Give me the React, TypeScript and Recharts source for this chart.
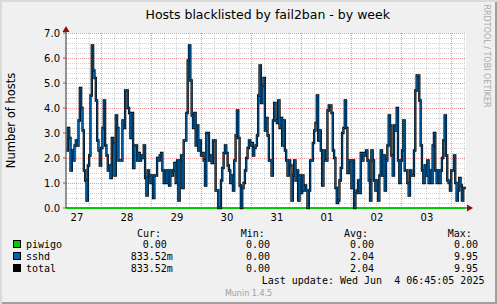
import React from 'react';
import { LineChart, Line, XAxis, YAxis, CartesianGrid, ReferenceLine, ReferenceDot } from 'recharts';

// ---- axis / tick data ----
const DAY_LABELS = ['27', '28', '29', '30', '31', '01', '02', '03'];
const LABEL_HOURS = [12, 36, 60, 84, 108, 132, 156, 180]; // noon of each day (hours since 27th 00:00)
const MIDNIGHT_HOURS = [24, 48, 72, 96, 120, 144, 168, 192];
const Y_TICKS = [0, 1, 2, 3, 4, 5, 6, 7];
const X_START = 6.75; // 27th 06:45
const X_END = 198.75; // 4th 06:45
const T0 = 7;
const STEP = 0.639;

// ---- series values (hosts) ----
const sshd = [
  2.3, 3.2, 2.8, 1.5, 2.3, 1.9, 2.5, 2.7, 2.5,
  3.5, 4.8, 4.0, 3.1, 1.5, 1.1, 0.3, 1.7, 2.1, 4.5,
  6.5, 5.5, 5.2, 4.3, 2.7, 2.3, 1.7, 2.4, 3.2, 4.3,
  2.5, 2.1, 1.5, 1.7, 1.2, 2.8, 2.6, 1.3, 3.7, 3.2,
  1.9, 1.9, 1.9, 3.5, 3.2, 4.7, 4.7, 4.0, 3.8, 2.8,
  3.8, 1.6, 2.5, 2.5, 1.9, 2.2, 1.9, 2.1, 2.0, 2.5,
  1.2, 0.5, 1.5, 1.3, 1.0, 1.3, 0.4, 1.3, 1.3, 2.0,
  1.9, 2.1, 2.2, 1.5, 1.0, 1.5,

  1.0, 1.5, 0.9, 1.5, 1.3, 1.5, 1.8, 1.0, 1.9, 0.3,
  1.9, 2.1, 0.8, 2.7, 2.7, 3.8, 5.9, 6.5, 5.1, 3.7,
  3.2, 3.8, 2.5, 3.3, 2.3, 2.7, 2.1, 2.2, 1.9, 0.9,
  3.0, 3.0, 1.9, 2.1, 1.8, 2.7, 2.7, 0.7, 0.7, 0.0,
  0.0, 1.1, 1.6, 2.2, 2.5, 2.2, 1.7, 1.5, 1.0, 1.3,
  0.7, 1.9, 2.9, 3.9, 2.8, 0.9, 0.0, 0.8, 1.0, 1.5,
  2.0, 2.4, 2.7, 2.5, 2.6, 2.1, 2.4, 2.5, 2.9, 4.5,
  5.7, 4.2, 4.9, 5.2, 3.1,

  3.6, 2.9, 1.9, 1.9, 1.3, 3.5, 4.2, 3.5, 3.4, 4.3,
  3.2, 3.6, 2.5, 3.5, 2.3, 1.9, 1.3, 1.9, 1.7, 0.3,
  1.3, 1.9, 1.1, 1.5, 0.3, 1.3, 0.6, 1.3, 0.7, 0.9,
  0.7, 0.0, 0.7, 1.9, 1.9, 2.6, 3.1, 3.4, 4.5, 2.7,
  3.1, 2.3, 0.9, 2.3, 1.9, 1.9, 3.9, 4.1, 4.1, 3.8,
  2.3, 2.0, 0.8, 0.2, 0.3, 1.1, 1.6, 3.0, 3.2, 4.3,
  3.2, 1.4, 1.9, 1.9, 0.8, 1.9, 0.0, 0.6, 0.7, 1.1,
  0.6, 2.2, 1.9, 2.2, 2.1,

  2.3, 1.9, 1.1, 0.3, 2.3, 1.9, 1.1, 0.7, 1.1, 0.3,
  1.3, 2.3, 1.3, 2.1, 0.7, 1.9, 2.5, 3.7, 3.3, 2.1,
  1.3, 3.3, 3.1, 4.0, 1.9, 1.0, 1.9, 2.3, 3.5, 1.5,
  1.5, 1.0, 0.5, 1.5, 1.3, 1.3, 2.3, 4.7, 5.3, 5.3,
  4.3, 2.5, 1.5, 1.0, 1.7, 1.3, 1.9, 1.0, 1.5, 1.0,
  2.5, 3.0, 1.5, 1.0, 1.5, 1.0, 1.5, 2.0, 2.7, 3.7,
  2.1, 1.1, 1.0, 0.7, 1.5, 1.5, 2.1, 1.0, 0.3, 0.7,
  1.2, 0.9, 0.3, 0.8, 0.8,
];
// total = sshd + piwigo, and piwigo is 0 over the whole week
const total = sshd.slice();
const piwigo = [0, 0];
const piwigoTimes = [X_START, X_END];

// ---- legend table ----
const LEGEND_NAMES = ['piwigo', 'sshd', 'total'];
const LEGEND_COLORS = ['#00CC00', '#0066B3', '#000000'];
const CUR = ['  0.00 ', '833.52m', '833.52m'];
const MIN = ['  0.00 ', '  0.00 ', '  0.00 '];
const AVG = ['  0.00 ', '  2.04 ', '  2.04 '];
const MAX = ['  0.00 ', '  9.95 ', '  9.95 '];

const data = sshd.map((v, i) => ({ t: T0 + i * STEP, sshd: v, total: total[i] }));
data.push({ t: T0 + sshd.length * STEP, sshd: sshd[sshd.length - 1], total: total[total.length - 1] });
const piwigoData = piwigo.map((v, i) => ({ t: piwigoTimes[i], piwigo: v }));

const MINOR_X: number[] = [];
for (let h = 12; h <= 198; h += 6) if (h % 24 !== 0) MINOR_X.push(h);
const MINOR_Y: number[] = [];
for (let k = 1; k < 35; k++) if (k % 5 !== 0) MINOR_Y.push(k / 5);
const MAJOR_Y = [1, 2, 3, 4, 5, 6, 7];

const MONO = '"DejaVu Sans Mono", monospace';
const SANS = '"DejaVu Sans", sans-serif';

const GRID_MINOR = '#D2D2D2';
const GRID_MAJOR = '#EE9A9A';
const ARROW = '#8B1010';

export default function App() {
  const rowBase = [248, 260, 272];
  return (
    <div
      style={{
        position: 'absolute',
        left: 0,
        top: 0,
        width: 497,
        height: 304,
        background: '#F0F0F0',
        boxShadow: 'inset 2px 2px 0 #DADADA, inset -2px -2px 0 #A0A0A0',
        overflow: 'hidden',
      }}
    >
      <LineChart width={497} height={304} data={data} margin={{ top: 33, right: 31, bottom: 76, left: 0 }}>
        <CartesianGrid fill="#FFFFFF" horizontal={false} vertical={false} stroke="none" />
        <XAxis
          dataKey="t"
          type="number"
          domain={[X_START, X_END]}
          ticks={LABEL_HOURS}
          interval={0}
          tickFormatter={(v: number) => DAY_LABELS[LABEL_HOURS.indexOf(v)]}
          axisLine={false}
          tickLine={false}
          tickSize={4}
          tickMargin={2}
          height={20}
          tick={{ fontSize: 10, fill: '#000', fontFamily: SANS }}
        />
        <YAxis
          type="number"
          domain={[0, 7]}
          ticks={Y_TICKS}
          interval={0}
          width={66}
          tickFormatter={(v: number) => v.toFixed(1)}
          axisLine={{ stroke: '#303030' }}
          tickLine={{ stroke: '#B05050' }}
          tickSize={3}
          tickMargin={3}
          tick={{ fontSize: 10, fill: '#000', fontFamily: SANS }}
        />
        {MINOR_X.map((h) => (
          <ReferenceLine key={'mx' + h} x={h} stroke={GRID_MINOR} strokeDasharray="1 1" shapeRendering="crispEdges" />
        ))}
        {MINOR_Y.map((v) => (
          <ReferenceLine key={'my' + v} y={v} stroke={GRID_MINOR} strokeDasharray="1 1" shapeRendering="crispEdges" />
        ))}
        {MIDNIGHT_HOURS.map((h) => (
          <ReferenceLine key={'Mx' + h} x={h} stroke={GRID_MAJOR} strokeDasharray="1 1" shapeRendering="crispEdges" />
        ))}
        {MAJOR_Y.map((v) => (
          <ReferenceLine key={'My' + v} y={v} stroke={GRID_MAJOR} strokeDasharray="1 1" shapeRendering="crispEdges" />
        ))}
        <Line
          data={piwigoData}
          dataKey="piwigo"
          type="linear"
          stroke="#00CC00"
          strokeWidth={2}
          dot={false}
          isAnimationActive={false}
        />
        <Line
          dataKey="total"
          type="stepAfter"
          stroke="#000000"
          strokeWidth={2.3}
          dot={false}
          isAnimationActive={false}
        />
        <Line
          dataKey="sshd"
          type="stepAfter"
          stroke="#0066B3"
          strokeWidth={0.9}
          dot={false}
          isAnimationActive={false}
        />
        <ReferenceDot
          x={X_START}
          y={7}
          ifOverflow="visible"
          shape={(p: any) => (
            <g>
              <line x1={p.cx} y1={p.cy} x2={p.cx} y2={p.cy - 2} stroke="#303030" />
              <path d={`M${p.cx - 3.5},${p.cy - 1} L${p.cx + 3.5},${p.cy - 1} L${p.cx},${p.cy - 7} Z`} fill={ARROW} />
            </g>
          )}
        />
        <ReferenceDot
          x={X_END}
          y={0}
          ifOverflow="visible"
          shape={(p: any) => (
            <g>
              <line x1={p.cx} y1={p.cy} x2={p.cx + 2} y2={p.cy} stroke={ARROW} />
              <path d={`M${p.cx + 1},${p.cy - 3.5} L${p.cx + 1},${p.cy + 3.5} L${p.cx + 7},${p.cy} Z`} fill={ARROW} />
            </g>
          )}
        />
      </LineChart>
      <svg width={497} height={304} style={{ position: 'absolute', left: 0, top: 0, pointerEvents: 'none' }}>
        <text x={145.5} y={19} fontFamily={SANS} fontSize={12.5} fill="#000">
          Hosts blacklisted by fail2ban - by week
        </text>
        <text
          x={0}
          y={0}
          transform="translate(15,120.5) rotate(-90)"
          textAnchor="middle"
          fontFamily={SANS}
          fontSize={11.5}
          fill="#000"
        >
          Number of hosts
        </text>
        <text
          x={0}
          y={0}
          transform="translate(484,56) rotate(90)"
          textAnchor="middle"
          fontFamily={SANS}
          fontSize={8}
          fill="#A8A8A8"
        >
          RRDTOOL / TOBI OETIKER
        </text>
        <g fontFamily={MONO} fontSize={10} fill="#000">
          <text x={137} y={236.5}>Cur:</text>
          <text x={240.7} y={236.5}>Min:</text>
          <text x={344} y={236.5}>Avg:</text>
          <text x={447.7} y={236.5}>Max:</text>
          {LEGEND_NAMES.map((name, i) => (
            <g key={name}>
              <rect x={13.5} y={rowBase[i] - 7.5} width={7} height={7} fill={LEGEND_COLORS[i]} stroke="#000" strokeWidth={1} />
              <text x={26} y={rowBase[i]}>{name}</text>
              <text x={130.7} y={rowBase[i]} xmlSpace="preserve">{CUR[i]}</text>
              <text x={234} y={rowBase[i]} xmlSpace="preserve">{MIN[i]}</text>
              <text x={338} y={rowBase[i]} xmlSpace="preserve">{AVG[i]}</text>
              <text x={442} y={rowBase[i]} xmlSpace="preserve">{MAX[i]}</text>
            </g>
          ))}
          <text x={261.7} y={284} xmlSpace="preserve">{'Last update: Wed Jun  4 06:45:05 2025'}</text>
        </g>
        <text x={248.5} y={295.5} textAnchor="middle" fontFamily={SANS} fontSize={8} fill="#A0A0A0">
          Munin 1.4.5
        </text>
      </svg>
    </div>
  );
}
